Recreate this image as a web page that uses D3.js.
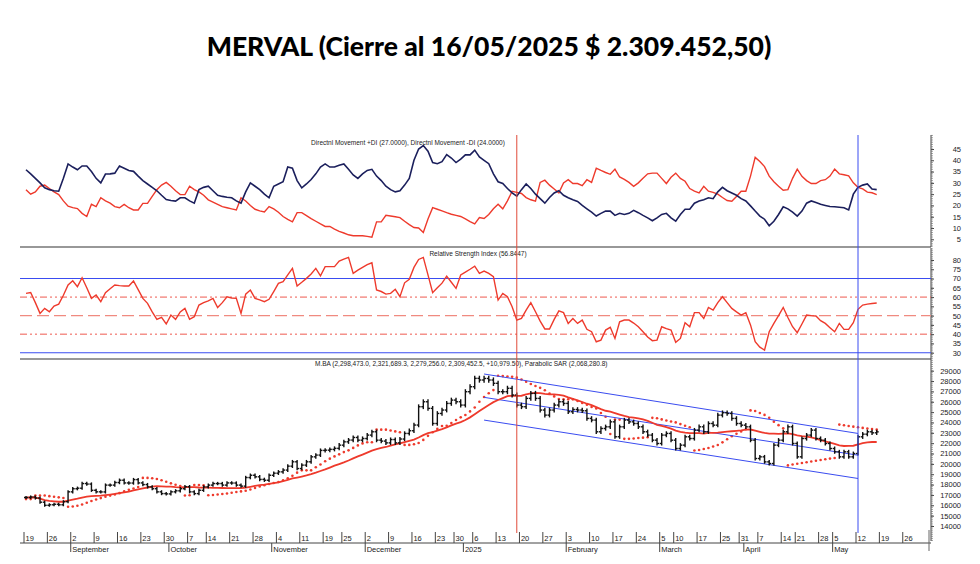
<!DOCTYPE html>
<html><head><meta charset="utf-8">
<script src="https://cdn.jsdelivr.net/npm/d3@7"></script>
<style>body{margin:0;background:#fff}svg{display:block}</style>
</head><body>
<svg id="c" width="980" height="564"></svg>
<script>
const titleText = "MERVAL (Cierre al 16/05/2025 $ 2.309.452,50)";
const diLabel = "Directnl Movement +DI (27.0000), Directnl Movement -DI (24.0000)";
const rsiLabel = "Relative Strength Index (56.8447)";
const priceLabel = "M.BA (2,298,473.0, 2,321,689.3, 2,279,256.0, 2,309,452.5, +10,979.50), Parabolic SAR (2,068,280.8)";
const startDate = "2024-08-19", endDate = "2025-05-16", axisEnd = "2025-05-30";
const holidays = ["2024-10-11","2024-11-18","2024-12-25","2025-01-01","2025-03-03","2025-03-04","2025-03-24","2025-04-02","2025-04-17","2025-04-18","2025-05-01","2025-05-02"];
const closes = [16750,16800,16700,16300,16000,16050,16100,16050,16350,17300,17600,17650,18100,18050,17450,17300,17290,17950,17950,18200,18420,18160,18150,18480,18160,18000,17780,17600,17300,17130,17100,17300,17400,17600,17800,17300,17130,17450,17780,17950,18100,18100,17950,18160,18150,17950,17850,18680,18900,18750,18500,18420,18900,19100,19230,19400,19780,20200,19550,19880,20200,20680,20850,21300,21325,21400,21500,21810,22130,22300,22550,22290,22450,22780,23100,22290,22200,22030,22350,22030,22400,22940,23200,23750,25520,26000,25360,23900,24870,25200,25840,26160,26000,25680,26970,27450,28260,28100,28250,28100,27780,26970,26970,27300,26650,25680,25520,26325,26810,26325,25200,24710,25200,25680,26000,25840,25035,25250,25200,25130,24390,24230,23100,23420,23580,24060,22620,23580,24230,24060,23900,23580,23100,22780,22290,21970,22780,22940,22290,21485,21810,22615,22450,23260,23580,23100,23900,23740,24710,24940,24870,24390,23900,23740,23580,22290,20520,20680,20195,20035,21810,22290,23100,23580,21970,20680,22450,22780,23260,22450,22290,21970,21485,21165,20680,21165,20680,21000,22615,22870,23100,23000,23094];
const diPlus = [35.8,34,32,30,27.8,27,26.5,26.3,32,38.4,37,35.8,37.5,37.5,35,32,30,33.9,34,34.3,37.5,36.5,35.5,35.1,33,31,29.5,28,26.5,24.5,22.6,22.2,21.9,23.4,23.4,22,21,27,28,28.5,26.5,24.5,24,23.6,23.4,22,21,26,30,28.5,27,25,23.4,28.5,29.5,30.5,37,36.5,31,27.8,29.5,31.5,34,37,38.4,37,37,37.8,38.4,36,33.5,32,34,35.5,36,33,31,28.5,27,26,26.5,29,32,40,45,46.5,44,39,38.5,39.4,42.5,41,39,40.5,42.4,42.4,44.5,41.5,40,38.5,34,30.5,29.7,27.5,25.6,24.1,27,29.5,27.5,25,23,21,23.5,25.5,26.5,24.5,23.4,22.5,21.8,20,18.5,17,15.3,16.5,17.5,17.5,15.6,16.5,16,16.5,17.8,16.8,15.6,14.5,13.2,14.5,16,16.5,14.5,13,16,18.3,18.3,21,22,22.5,23.4,23,26,28,26.5,25.5,24.5,23,22,19.8,17.5,15.3,13.9,11,13,16,19.4,18.5,17,15.3,17.5,21,22,21.3,20.5,20,19.5,19.4,19.2,19,18,25,28,29,29.5,27.3,27];
const diMinus = [27,25,26,28.5,29,27.5,26,24.8,22,19.7,19,18.6,16.5,15.1,20.5,19.5,23.4,22,21,19.5,19,20.5,19,18,18,20.9,20.9,24,27,29,30.2,28.5,26.5,24.8,24.8,28.5,27,26,24.5,22.5,21.5,20.5,19.5,19,18.5,18,23.4,22,20,18.3,17.6,17.1,19.5,18.5,17,15.1,13.8,12.7,16.8,16.8,15.5,14.2,13,11.8,10.7,10.7,9.5,8.5,7.8,7,6.6,6.6,6.6,6.3,5.9,12.7,12.7,15.6,15.3,15,14.6,13,11.5,10.2,10,8,14,19,18.3,17.6,16.8,16.1,15.6,15.1,14,12.8,11.8,14.6,14.2,16,18.5,20.5,18.5,22,26.3,25.8,25.3,23.5,22.5,21.9,30.2,31.2,29,27.3,25.6,30,31.4,29.7,29.7,28.8,31.4,30.2,36.5,35.5,34.6,33.8,36.1,32.6,31.5,30.2,28.5,30,32,34,34.3,34.3,32,29.7,32.5,34.3,32,30.7,27.5,26.3,25.6,28.5,26.3,25.8,25,23.5,22.2,21.9,24,26.3,26.3,33,41.3,39.5,37.2,33,30.5,28.5,26.7,27,32,36.1,32.9,31,29.7,29.7,31,31.4,33,36.1,34,33.6,33.1,30,28,27.3,25.9,25.6,24.8];
const rsi = [62,62.5,57,51.2,53.9,52.1,55.2,56.2,61,66.5,68.8,65.6,70.4,65,59.3,61.1,57.5,62.4,64.5,66.5,66.2,66,66,68.7,64,59.3,56.6,52,48,49.1,45.5,50.3,48,52,53.9,48,49.4,55.7,57,58,59.3,54.4,57,60.2,59.5,59.3,51.2,61.6,63.8,59.3,58.5,57.5,58.8,63,67.4,68.3,72,75.5,66,68,70.1,72.5,75.5,71.5,76.4,76.4,76.4,79.4,80.5,81.4,72.8,74.5,76,77.5,78.5,63.8,63,61.6,62,64.2,60.2,67.7,69.6,76,80.3,81.4,72,62.4,65,67.5,71.3,68,64.7,71.9,73.5,75,76.7,72.8,74,72.8,71,58.4,62,60.2,54.8,47.6,48.5,53,57,52.1,47,42.8,42.8,48,52.6,51.6,45.8,48.5,45.8,47.6,42.6,41.3,35.9,36.8,42.2,43.7,37.7,46.7,47.6,47.6,46,44,41.3,38.5,36.5,36.8,44,43,42.2,35.6,37.7,46.2,44,51.6,51.6,48.5,54.4,53,57,60.2,57,53.9,52,50.3,51.6,45,35.9,33,31.4,41.3,45.8,50,54.4,49,44,40.8,45.5,50.3,50,49.8,47.3,45.8,43.5,41.3,45.8,42.6,42.6,46.2,53.4,55.7,56.2,56.5,56.8];
const channelDates = ["2025-01-08","2025-05-12"];
const channelUpper = [28680,22940], channelMid = [26425,20840], channelLower = [24230,18590];
const markerRed = "2025-01-17", markerBlue = "2025-05-12";
const diTicks = [5,10,15,20,25,30,35,40,45];
const rsiTicks = [30,35,40,45,50,55,60,65,70,75,80];
const priceTicks = [14000,15000,16000,17000,18000,19000,20000,21000,22000,23000,24000,25000,26000,27000,28000,29000];
const monthNames = ["January","February","March","April","May","June","July","August","September","October","November","December"];

const fmt = d3.timeFormat("%Y-%m-%d"), parse = d3.timeParse("%Y-%m-%d");
const hol = new Set(holidays);
const days = d3.timeDay.range(parse(startDate), d3.timeDay.offset(parse(axisEnd),1))
  .filter(d => d.getDay()>0 && d.getDay()<6 && !hol.has(fmt(d)));
const idx = s => days.findIndex(d => fmt(d) === s);

const svg = d3.select("#c");
const L = 20, R = 931;
const x = d3.scaleLinear().domain([0,194]).range([26,932.8]);
const yDI = d3.scaleLinear().domain([5,45]).range([239.3,149]);
const yR = d3.scaleLinear().domain([30,80]).range([352.7,260]);
const yP = d3.scaleLinear().domain([14000,29000]).range([526,370.7]);
const red = "#ee3a2c", navy = "#1b1f5c", blue = "#3a4cf0", font = "Liberation Sans, Arial, sans-serif";

svg.append("text").attr("x",489).attr("y",56).attr("text-anchor","middle")
  .attr("font-family","Lato, Open Sans, sans-serif").attr("font-weight","900").attr("font-size",26.5).text(titleText);

const defs = svg.append("defs");
[["cDI",135,247],["cR",248,358],["cP",359,541]].forEach(([id,a,b]) =>
  defs.append("clipPath").attr("id",id).append("rect").attr("x",L).attr("y",a).attr("width",R-L).attr("height",b-a));

[247,359].forEach(yv => svg.append("line").attr("x1",L).attr("x2",R).attr("y1",yv).attr("y2",yv).attr("stroke","#333").attr("stroke-width",1.2));

function rightAxis(scale, ticks, y0, y1){
  svg.append("line").attr("x1",R).attr("x2",R).attr("y1",y0).attr("y2",y1).attr("stroke","#444");
  const ax = d3.axisRight(scale).tickValues(ticks).tickSize(3).tickPadding(27).tickFormat(d3.format("d"));
  const g = svg.append("g").attr("transform",`translate(${R},0)`).call(ax);
  g.select(".domain").remove();
  g.selectAll("text").attr("font-family",font).attr("font-size",7.5).attr("fill","#222").attr("text-anchor","end");
  g.selectAll("line").attr("stroke","#444");
  const [a,b] = scale.domain(); const st=(ticks[1]-ticks[0])/5;
  const minors = d3.range(a-st*10,b+st*10,st).filter(v => scale(v)>=y0 && scale(v)<=y1);
  svg.append("g").selectAll("line").data(minors).join("line").attr("x1",R).attr("x2",R+2)
    .attr("y1",d=>scale(d)).attr("y2",d=>scale(d)).attr("stroke","#666").attr("stroke-width",0.6);
}
rightAxis(yDI, diTicks, 135, 247);
rightAxis(yR, rsiTicks, 248, 359);
rightAxis(yP, priceTicks, 359, 541);

const n = closes.length;
const line = y => d3.line().x((d,i)=>x(i)).y(d=>y(d));
const gDI = svg.append("g").attr("clip-path","url(#cDI)");
gDI.append("path").datum(diMinus).attr("d",line(yDI)).attr("fill","none").attr("stroke",red).attr("stroke-width",1.4);
gDI.append("path").datum(diPlus).attr("d",line(yDI)).attr("fill","none").attr("stroke",navy).attr("stroke-width",1.6);
svg.append("text").attr("x",408).attr("y",145).attr("text-anchor","middle").attr("font-family",font).attr("font-size",6.5).attr("fill","#222").text(diLabel);

const gR = svg.append("g").attr("clip-path","url(#cR)");
[70,30].forEach(v => gR.append("line").attr("x1",L).attr("x2",R).attr("y1",yR(v)).attr("y2",yR(v)).attr("stroke",blue).attr("stroke-width",1.1));
[60,40].forEach(v => gR.append("line").attr("x1",L).attr("x2",R).attr("y1",yR(v)).attr("y2",yR(v)).attr("stroke","#ee5a50").attr("stroke-width",1).attr("stroke-dasharray","7,3,2,3,2,3"));
gR.append("line").attr("x1",L).attr("x2",R).attr("y1",yR(50)).attr("y2",yR(50)).attr("stroke","#f08a80").attr("stroke-width",1.3).attr("stroke-dasharray","12,5");
gR.append("path").datum(rsi).attr("d",line(yR)).attr("fill","none").attr("stroke",red).attr("stroke-width",1.4);
svg.append("text").attr("x",478).attr("y",256).attr("text-anchor","middle").attr("font-family",font).attr("font-size",6.5).attr("fill","#222").text(rsiLabel);

const gP = svg.append("g").attr("clip-path","url(#cP)");
const bars = closes.map((c,i)=>{const o = i? closes[i-1] : c; const hi=Math.max(o,c)*1.009, lo=Math.min(o,c)*0.991; return {i,o,c,hi,lo};});
const ma = closes.map((c,i)=>d3.mean(closes.slice(Math.max(0,i-19),i+1)));
const sar=[]; {let up=true, af=0.02, ep=bars[0].hi, s=bars[0].lo;
 for(let i=0;i<n;i++){ const b=bars[i];
  if(i>0){ s = s + af*(ep-s);
    if(up){ s=Math.min(s,bars[i-1].lo, i>1?bars[i-2].lo:bars[i-1].lo);
      if(b.lo<s){up=false;s=ep;ep=b.lo;af=0.02;} else if(b.hi>ep){ep=b.hi;af=Math.min(0.2,af+0.02);} }
    else { s=Math.max(s,bars[i-1].hi, i>1?bars[i-2].hi:bars[i-1].hi);
      if(b.hi>s){up=true;s=ep;ep=b.hi;af=0.02;} else if(b.lo<ep){ep=b.lo;af=Math.min(0.2,af+0.02);} } }
  sar.push(s);} }
gP.append("g").selectAll("circle").data(sar).join("circle").attr("cx",(d,i)=>x(i)).attr("cy",d=>yP(d)).attr("r",1.3).attr("fill",red);
const ci = channelDates.map(idx);
[channelUpper,channelMid,channelLower].forEach(ch => gP.append("line").attr("x1",x(ci[0])).attr("x2",x(ci[1])).attr("y1",yP(ch[0])).attr("y2",yP(ch[1])).attr("stroke",blue).attr("stroke-width",1));
gP.append("path").datum(ma).attr("d",line(yP)).attr("fill","none").attr("stroke",red).attr("stroke-width",1.8);
const gb = gP.append("g").attr("stroke","#111").attr("stroke-width",1.4);
bars.forEach(b => {
  gb.append("line").attr("x1",x(b.i)).attr("x2",x(b.i)).attr("y1",yP(b.hi)).attr("y2",yP(b.lo));
  gb.append("line").attr("x1",x(b.i)-2).attr("x2",x(b.i)).attr("y1",yP(b.o)).attr("y2",yP(b.o));
  gb.append("line").attr("x1",x(b.i)).attr("x2",x(b.i)+2).attr("y1",yP(b.c)).attr("y2",yP(b.c));
});
svg.append("text").attr("x",315).attr("y",366).attr("font-family",font).attr("font-size",6.5).attr("fill","#222").text(priceLabel);

svg.append("line").attr("x1",x(idx(markerRed))).attr("x2",x(idx(markerRed))).attr("y1",135).attr("y2",533).attr("stroke","#e04a3a").attr("stroke-width",1);
svg.append("line").attr("x1",x(idx(markerBlue))).attr("x2",x(idx(markerBlue))).attr("y1",135).attr("y2",533).attr("stroke",blue).attr("stroke-width",1);

svg.append("line").attr("x1",L).attr("x2",R).attr("y1",543).attr("y2",543).attr("stroke","#444");
const weekStarts = days.map((d,i)=>({d,i})).filter(({d,i}) => i===0 || d3.timeMonday.floor(d).getTime() !== d3.timeMonday.floor(days[i-1]).getTime());
const gx = svg.append("g");
weekStarts.forEach(({d,i}) => {
  const xv = x(i)-2;
  gx.append("line").attr("x1",xv).attr("x2",xv).attr("y1",532).attr("y2",543).attr("stroke","#444");
  gx.append("text").attr("x",xv+1.5).attr("y",540.5).attr("font-family",font).attr("font-size",7.5).attr("fill","#222").text(d.getDate());
});
const monthStarts = days.map((d,i)=>({d,i})).filter(({d,i}) => i>0 && d.getMonth() !== days[i-1].getMonth());
monthStarts.forEach(({d,i}) => {
  const xv = x(i)-2;
  gx.append("line").attr("x1",xv).attr("x2",xv).attr("y1",543).attr("y2",552).attr("stroke","#444");
  gx.append("text").attr("x",xv+1.5).attr("y",551.5).attr("font-family",font).attr("font-size",7.5).attr("fill","#222")
    .text(d.getMonth()===0 ? d.getFullYear() : monthNames[d.getMonth()]);
});
gx.append("line").attr("x1",R-2).attr("x2",R-2).attr("y1",530).attr("y2",551).attr("stroke","#666");
</script>
</body></html>
